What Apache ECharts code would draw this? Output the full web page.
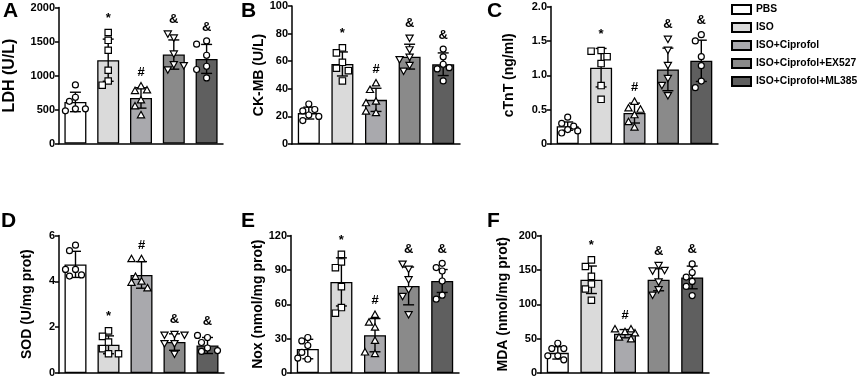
<!DOCTYPE html>
<html><head><meta charset="utf-8">
<script src="https://cdn.jsdelivr.net/npm/echarts@6/dist/echarts.min.js"></script>
<style>html,body{margin:0;padding:0;background:#fff}#c{width:858px;height:380px}</style>
</head><body><div id="c"></div>
<script>
// ---------- DATA ----------
const groups = ['PBS', 'ISO', 'ISO+Ciprofol', 'ISO+Ciprofol+EX527', 'ISO+Ciprofol+ML385'];
const sigMarks = ['', '*', '#', '&', '&'];

// A: LDH (U/L)
const ldhTicks = [0, 500, 1000, 1500, 2000];
const ldhMean = [611, 1225, 670, 1308, 1244];
const ldhSD = [143, 310, 150, 215, 213];
const ldhPoints = [
  [862, 680, 620, 510, 480, 510],
  [1632, 1518, 1371, 1077, 919, 857],
  [842, 773, 783, 636, 548, 416],
  [1558, 1617, 1323, 1166, 1088, 1151],
  [1508, 1460, 1298, 1136, 1088, 964]
];

// B: CK-MB (U/L)
const ckmbTicks = [0, 20, 40, 60, 80, 100];
const ckmbMean = [22.4, 58, 32, 63.3, 57.8];
const ckmbSD = [4.3, 8.7, 8.4, 9, 8.2];
const ckmbPoints = [
  [29, 24, 25, 21, 17, 20],
  [69.7, 66, 59.2, 54.9, 53.1, 45.7],
  [44, 39.2, 30.8, 29.6, 22.4, 23.5],
  [77, 68.6, 63.2, 61.4, 57.3, 53.1],
  [68.8, 63.2, 57.8, 54.4, 55.3, 45.7]
];

// C: cTnT (ng/ml)
const ctntTicks = [0, 0.5, 1.0, 1.5, 2.0];
const ctntMean = [0.26, 1.11, 0.45, 1.085, 1.21];
const ctntSD = [0.06, 0.28, 0.145, 0.31, 0.30];
const ctntPoints = [
  [0.39, 0.21, 0.30, 0.26, 0.16, 0.19],
  [1.36, 1.35, 1.27, 1.17, 0.85, 0.65],
  [0.615, 0.52, 0.50, 0.42, 0.32, 0.24],
  [1.53, 1.37, 1.15, 0.96, 0.86, 0.71],
  [1.59, 1.50, 1.27, 1.14, 0.915, 0.82]
];

// D: SOD (U/mg prot)
const sodTicks = [0, 2, 4, 6];
const sodMean = [4.74, 1.23, 4.28, 1.35, 1.20];
const sodSD = [0.57, 0.39, 0.58, 0.36, 0.35];
const sodPoints = [
  [5.58, 5.34, 4.52, 4.52, 4.23, 4.28],
  [1.84, 1.6, 1.35, 1.06, 0.84, 0.84],
  [4.97, 4.97, 3.99, 4.2, 3.94, 3.70],
  [1.70, 1.67, 1.67, 1.30, 1.30, 0.84],
  [1.55, 1.64, 1.33, 1.09, 0.94, 0.98]
];

// E: Nox (nmol/mg prot)
const noxTicks = [0, 30, 60, 90, 120];
const noxMean = [20.9, 79.5, 33, 76, 80.3];
const noxSD = [8.5, 21, 14.5, 16.5, 10];
const noxPoints = [
  [31, 28, 24, 18, 12, 13],
  [103.5, 96.9, 91.9, 75.4, 57.1, 52.2],
  [50.8, 39.7, 44, 28.1, 16.5, 18],
  [91, 95.4, 81.8, 73, 67.3, 51.3],
  [95.7, 92, 89, 80.3, 67.9, 64.4]
];

// F: MDA (nmol/mg prot)
const mdaTicks = [0, 50, 100, 150, 200];
const mdaMean = [29.3, 135.6, 57.2, 135.6, 139];
const mdaSD = [9, 20, 6, 16, 16.5];
const mdaPoints = [
  [43.3, 35.6, 35.6, 25, 25, 19.2],
  [164.5, 154.9, 140.5, 129.4, 122.2, 105.8],
  [59.6, 63.5, 57.7, 51.5, 49, 63.5],
  [157, 149, 150, 133, 122, 114],
  [158.7, 146.2, 139.5, 133.2, 126, 112.6]
];

// ---------- STYLE / LAYOUT ----------
const FONT = '"Liberation Sans", Arial, Helvetica, sans-serif';
const colors = ['#ffffff', '#dadada', '#a9a9ad', '#8a8a8a', '#5f5f5f'];
const shapes = ['circle', 'square', 'triangle', 'invtriangle', 'circle'];
const dec1 = v => (v === 0 ? '0' : v.toFixed(1));
const plain = v => String(v);

const panels = [
  {letter: 'A', name: 'LDH (U/L)', ticks: ldhTicks, mean: ldhMean, sd: ldhSD, pts: ldhPoints, fmt: plain,
   grid: {left: 59, top: 7.5, width: 164, height: 136}, nameSize: 16, nameGap: 41, lpos: {left: 3, top: 1}},
  {letter: 'B', name: 'CK-MB (U/L)', ticks: ckmbTicks, mean: ckmbMean, sd: ckmbSD, pts: ckmbPoints, fmt: plain,
   grid: {left: 292, top: 6, width: 168, height: 138}, nameSize: 14, nameGap: 26, lpos: {left: 241, top: 1}},
  {letter: 'C', name: 'cTnT (ng/ml)', ticks: ctntTicks, mean: ctntMean, sd: ctntSD, pts: ctntPoints, fmt: dec1,
   grid: {left: 551, top: 6.5, width: 167, height: 137.5}, nameSize: 14, nameGap: 35, lpos: {left: 487, top: 1}},
  {letter: 'D', name: 'SOD (U/mg prot)', ticks: sodTicks, mean: sodMean, sd: sodSD, pts: sodPoints, fmt: plain,
   grid: {left: 59, top: 235.5, width: 165, height: 137.5}, nameSize: 14, nameGap: 25, lpos: {left: 1, top: 211}},
  {letter: 'E', name: 'Nox (nmol/mg prot)', ticks: noxTicks, mean: noxMean, sd: noxSD, pts: noxPoints, fmt: plain,
   grid: {left: 291, top: 235.5, width: 168, height: 137.5}, nameSize: 14, nameGap: 24, lpos: {left: 241, top: 211}},
  {letter: 'F', name: 'MDA (nmol/mg prot)', ticks: mdaTicks, mean: mdaMean, sd: mdaSD, pts: mdaPoints, fmt: plain,
   grid: {left: 541, top: 235.5, width: 168, height: 137.5}, nameSize: 14, nameGap: 31, lpos: {left: 487, top: 211}}
];

const axisLineStyle = {color: '#000', width: 1.5};

function beeswarm(ys, r) {
  const cands = [0, -6, 6, -10, 10, -3, 3];
  const placed = [];
  return ys.map(y => {
    let best = 0, bestD = -1;
    for (const dx of cands) {
      let md = Infinity;
      for (const p of placed) md = Math.min(md, Math.hypot(p[0] - dx, p[1] - y));
      if (md >= 2 * r + 0.5) { best = dx; bestD = Infinity; break; }
      if (md > bestD) { bestD = md; best = dx; }
    }
    placed.push([best, y]);
    return best;
  });
}

function symbolEl(shape, x, y) {
  const style = {fill: '#fff', stroke: '#000', lineWidth: 1.2};
  if (shape === 'circle') return {type: 'circle', shape: {cx: x, cy: y, r: 3}, style};
  if (shape === 'square') return {type: 'rect', shape: {x: x - 3.2, y: y - 3.2, width: 6.4, height: 6.4}, style};
  if (shape === 'triangle') return {type: 'polygon', shape: {points: [[x, y - 3.8], [x + 3.6, y + 2.6], [x - 3.6, y + 2.6]]}, style};
  return {type: 'polygon', shape: {points: [[x, y + 3.8], [x + 3.6, y - 2.6], [x - 3.6, y - 2.6]]}, style};
}

const grids = [], xAxes = [], yAxes = [], series = [], titles = [];
panels.forEach((P, p) => {
  grids.push(Object.assign({containLabel: false}, P.grid));
  titles.push({text: P.letter, left: P.lpos.left, top: P.lpos.top, padding: 0,
    textStyle: {fontSize: 21, fontWeight: 'bold', color: '#000', fontFamily: FONT}});
  xAxes.push({type: 'category', gridIndex: p, data: groups,
    axisLabel: {show: false},
    axisTick: {alignWithLabel: true, length: 4, lineStyle: axisLineStyle},
    axisLine: {lineStyle: axisLineStyle}});
  const t = P.ticks;
  yAxes.push({type: 'value', gridIndex: p, min: t[0], max: t[t.length - 1], interval: t[1] - t[0],
    splitLine: {show: false},
    axisLine: {show: true, lineStyle: axisLineStyle},
    axisTick: {show: true, length: 4, lineStyle: axisLineStyle},
    axisLabel: {color: '#000', fontWeight: 'bold', fontSize: 11, fontFamily: FONT, margin: 4, formatter: P.fmt},
    name: P.name, nameLocation: 'middle', nameGap: P.nameGap,
    nameTextStyle: {color: '#000', fontWeight: 'bold', fontSize: P.nameSize, fontFamily: FONT}});
  groups.forEach((g, gi) => {
    series.push({type: 'bar', name: g, xAxisIndex: p, yAxisIndex: p, stack: 'st' + p, barWidth: 22,
      silent: true, animation: false,
      itemStyle: {color: colors[gi], borderColor: '#000', borderWidth: 1.3},
      data: P.mean.map((v, i) => (i === gi ? v : '-'))});
  });
  series.push({type: 'custom', xAxisIndex: p, yAxisIndex: p, z: 5, silent: true, animation: false,
    data: P.mean.map((v, i) => [i, v, P.sd[i]]),
    renderItem: (params, api) => {
      const i = api.value(0), m = api.value(1), s = api.value(2);
      const cx = api.coord([i, m])[0];
      const yT = api.coord([i, m + s])[1], yB = api.coord([i, m - s])[1];
      const ls = {stroke: '#000', lineWidth: 1.4};
      const kids = [
        {type: 'line', shape: {x1: cx, y1: yB, x2: cx, y2: yT}, style: ls},
        {type: 'line', shape: {x1: cx - 5.5, y1: yT, x2: cx + 5.5, y2: yT}, style: ls},
        {type: 'line', shape: {x1: cx - 5.5, y1: yB, x2: cx + 5.5, y2: yB}, style: ls}
      ];
      const ys = P.pts[i].map(v => api.coord([i, v])[1]);
      const dxs = beeswarm(ys, 3.2);
      ys.forEach((y, k) => kids.push(symbolEl(shapes[i], cx + dxs[k], y)));
      const top = Math.min(yT, ...ys) - 3.5;
      if (sigMarks[i]) kids.push({type: 'text', style: {text: sigMarks[i], x: cx, y: top - 4,
        align: 'center', verticalAlign: 'bottom', fill: '#000', font: 'bold 13px ' + FONT}});
      return {type: 'group', children: kids};
    }});
});

const chart = echarts.init(document.getElementById('c'), null, {renderer: 'canvas'});
chart.setOption({
  animation: false,
  backgroundColor: '#fff',
  textStyle: {fontFamily: FONT},
  title: titles,
  legend: {data: groups, orient: 'vertical', left: 731, top: 4, padding: 0, itemWidth: 19, itemHeight: 9, itemGap: 7,
    icon: 'rect', selectedMode: false,
    textStyle: {fontSize: 10.3, fontWeight: 'bold', color: '#000', fontFamily: FONT}},
  grid: grids, xAxis: xAxes, yAxis: yAxes, series: series
});
</script></body></html>
